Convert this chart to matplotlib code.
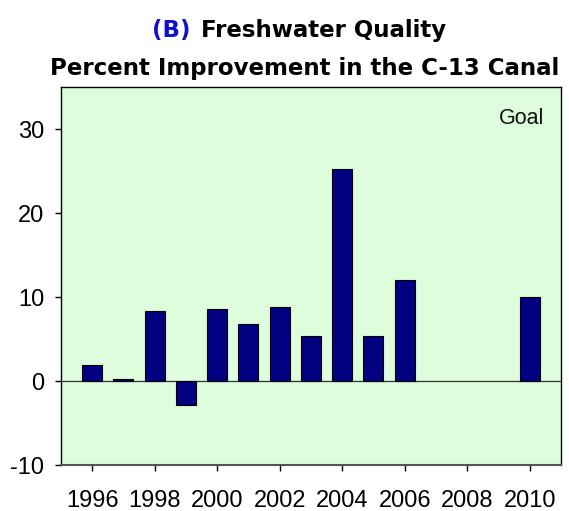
import numpy as np
import matplotlib
matplotlib.use("Agg")
import matplotlib.pyplot as plt
from matplotlib.ticker import FuncFormatter

years = [1996, 1997, 1998, 1999, 2000, 2001, 2002, 2003, 2004, 2005, 2006, 2010]
improvement = [1.9, 0.2, 8.3, -2.9, 8.6, 6.8, 8.8, 5.3, 25.2, 5.3, 12.0, 10.0]
tick_years = [1996, 1998, 2000, 2002, 2004, 2006, 2008, 2010]
y_ticks = [-10, 0, 10, 20, 30]

plt.rcParams["axes.unicode_minus"] = False

fig = plt.figure(figsize=(5.69, 5.11), dpi=100)
ax = fig.add_axes([0.1072, 0.090, 0.8787, 0.7397])
ax.set_facecolor("#ddfddd")

ax.bar(years, improvement, width=0.64, color="#000080", edgecolor="black", linewidth=0.8, zorder=3)
ax.axhline(0, color="#333333", linewidth=0.9, zorder=2)

ax.set_xlim(1995, 2011)
ax.set_ylim(-10, 35)
ax.set_xticks(tick_years)
ax.set_yticks(y_ticks)
ax.yaxis.set_major_formatter(FuncFormatter(lambda v, p: "%d" % v))
ax.tick_params(labelsize=17, direction="out", length=4, width=1)
ax.tick_params(axis="x", pad=14)
ax.tick_params(axis="y", pad=8)
for lab in ax.get_xticklabels() + ax.get_yticklabels():
    lab.set_fontfamily("Liberation Sans")
for s in ax.spines.values():
    s.set_linewidth(1.0)
ax.spines["bottom"].set_color("#555555")
ax.spines["bottom"].set_linewidth(1.5)

ax.text(0.966, 0.918, "Goal", transform=ax.transAxes, ha="right", va="center",
        fontsize=15.5, fontfamily="Liberation Sans", color="#111111")

fig.text(191 / 569, 0.9276, "(B)", color="#1010c8", fontsize=16.5, fontweight="bold",
         ha="right", va="baseline")
fig.text(201 / 569, 0.9276, "Freshwater Quality", color="black", fontsize=16.5,
         fontweight="bold", ha="left", va="baseline")
fig.text(0.535, 0.8532, "Percent Improvement in the C-13 Canal", color="black", fontsize=16.5,
         fontweight="bold", ha="center", va="baseline")

fig.savefig("out.png", dpi=100)
